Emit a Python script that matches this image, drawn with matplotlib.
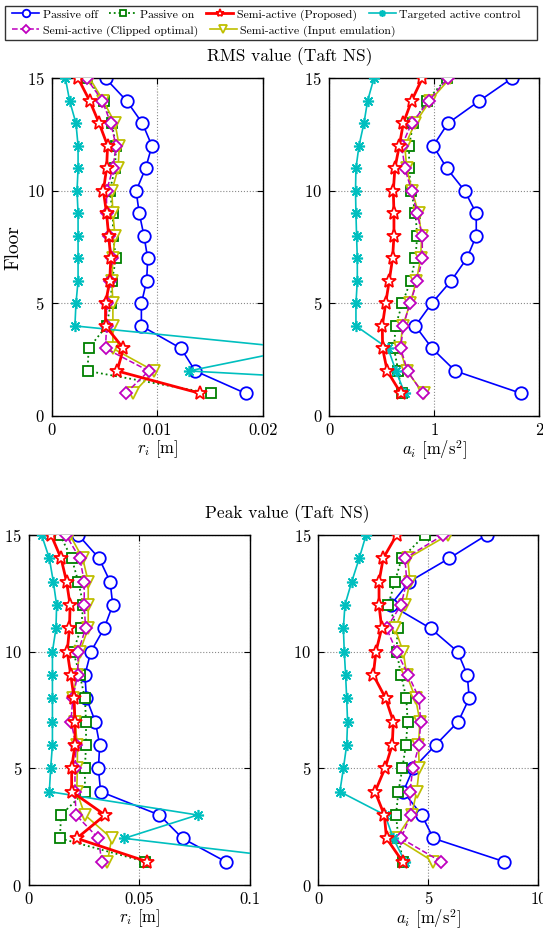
import numpy as np
import matplotlib
matplotlib.use("Agg")
import matplotlib.pyplot as plt
from matplotlib.patches import Rectangle

plt.rcParams['font.family'] = ['cmr10', 'DejaVu Serif']
plt.rcParams['mathtext.fontset'] = 'cm'
plt.rcParams['axes.formatter.use_mathtext'] = True
plt.rcParams['axes.unicode_minus'] = False

floors = np.arange(1, 16)

# RMS inter-storey drift [m], floor 1..15
rms_r_off = [0.0184, 0.0136, 0.01226, 0.0085, 0.0085, 0.0090, 0.0091, 0.00875, 0.0083, 0.0080, 0.0089, 0.0095, 0.0086, 0.0071, 0.0051]
rms_r_on = [0.0151, 0.0034, 0.0035, 0.0052, 0.0056, 0.0057, 0.0061, 0.0058, 0.0058, 0.0055, 0.0060, 0.0061, 0.0057, 0.0050, 0.0033]
rms_r_prop = [0.0141, 0.0062, 0.0068, 0.0051, 0.0051, 0.0055, 0.0056, 0.0054, 0.0052, 0.0049, 0.0052, 0.0053, 0.0045, 0.0036, 0.0025]
rms_r_act = [0.052, 0.0130, 0.0235, 0.0022, 0.0023, 0.0025, 0.0025, 0.0025, 0.0025, 0.0024, 0.0025, 0.0025, 0.0023, 0.0017, 0.0013]
rms_r_clip = [0.0070, 0.0092, 0.0051, 0.0052, 0.0052, 0.0055, 0.0057, 0.0054, 0.0052, 0.0052, 0.0058, 0.0061, 0.0056, 0.0048, 0.0033]
rms_r_emul = [0.0077, 0.0097, 0.0058, 0.0058, 0.0058, 0.0057, 0.0058, 0.0060, 0.0058, 0.0057, 0.0063, 0.0064, 0.0060, 0.0049, 0.0036]

# RMS acceleration [m/s^2]
rms_a_off = [1.83, 1.20, 0.98, 0.82, 0.975, 1.16, 1.31, 1.40, 1.40, 1.29, 1.12, 0.99, 1.13, 1.43, 1.74]
rms_a_on = [0.69, 0.657, 0.616, 0.632, 0.695, 0.775, 0.82, 0.838, 0.82, 0.78, 0.76, 0.76, 0.80, 0.927, 1.12]
rms_a_prop = [0.683, 0.552, 0.508, 0.505, 0.537, 0.571, 0.603, 0.616, 0.616, 0.61, 0.625, 0.667, 0.705, 0.784, 0.886]
rms_a_act = [0.72, 0.635, 0.56, 0.254, 0.254, 0.267, 0.267, 0.26, 0.254, 0.25, 0.254, 0.283, 0.33, 0.365, 0.425]
rms_a_clip = [0.889, 0.746, 0.68, 0.705, 0.768, 0.84, 0.886, 0.886, 0.838, 0.784, 0.72, 0.69, 0.784, 0.95, 1.127]
rms_a_emul = [0.90, 0.737, 0.673, 0.70, 0.77, 0.83, 0.87, 0.88, 0.85, 0.79, 0.737, 0.72, 0.816, 0.96, 1.15]

# Peak inter-storey drift [m]
pk_r_off = [0.089, 0.0695, 0.059, 0.0324, 0.0314, 0.032, 0.030, 0.026, 0.0253, 0.028, 0.034, 0.0379, 0.0367, 0.0317, 0.0223]
pk_r_on = [0.0525, 0.014, 0.0145, 0.0253, 0.0253, 0.0258, 0.0258, 0.0253, 0.023, 0.020, 0.0235, 0.0246, 0.0223, 0.0193, 0.014]
pk_r_prop = [0.0535, 0.0216, 0.0344, 0.0193, 0.0193, 0.0208, 0.0208, 0.0204, 0.0189, 0.0173, 0.0183, 0.0186, 0.017, 0.0145, 0.010]
pk_r_act = [0.132, 0.0431, 0.0763, 0.0092, 0.0098, 0.0106, 0.0106, 0.0106, 0.0106, 0.0106, 0.0122, 0.0125, 0.011, 0.0092, 0.0057]
pk_r_clip = [0.0329, 0.0314, 0.0213, 0.0208, 0.0208, 0.0213, 0.019, 0.0198, 0.022, 0.0223, 0.0256, 0.025, 0.025, 0.023, 0.0167]
pk_r_emul = [0.0355, 0.0374, 0.0253, 0.0216, 0.0219, 0.0219, 0.0208, 0.0198, 0.0216, 0.023, 0.0268, 0.0268, 0.0268, 0.0243, 0.0185]

# Peak acceleration [m/s^2]
pk_a_off = [8.45, 5.23, 4.7, 3.86, 4.32, 5.33, 6.36, 6.86, 6.77, 6.33, 5.1, 3.29, 4.14, 5.95, 7.65]
pk_a_on = [3.86, 3.64, 3.53, 3.64, 3.82, 3.98, 4.06, 4.0, 3.76, 3.56, 3.6, 3.18, 3.48, 3.79, 4.85]
pk_a_prop = [3.83, 3.1, 3.0, 2.58, 3.03, 3.36, 3.41, 3.06, 2.5, 2.62, 2.88, 2.76, 2.76, 2.95, 3.56]
pk_a_act = [3.94, 3.41, 3.03, 0.98, 1.14, 1.29, 1.33, 1.29, 1.24, 1.18, 1.14, 1.21, 1.52, 1.86, 2.17]
pk_a_clip = [5.58, 3.76, 4.2, 4.17, 4.29, 4.58, 4.65, 4.58, 4.09, 3.56, 3.1, 3.76, 4.02, 3.94, 5.68]
pk_a_emul = [5.23, 3.53, 4.24, 4.47, 4.59, 4.55, 4.62, 4.42, 4.02, 3.86, 3.48, 3.94, 4.17, 4.06, 5.9]

labels = ['Passive off', 'Passive on', 'Semi-active (Proposed)', 'Targeted active control',
          'Semi-active (Clipped optimal)', 'Semi-active (Input emulation)']

y_ticks = [0, 5, 10, 15]
xt_rms_r = [0, 0.01, 0.02]
xt_rms_r_lab = ['0', '0.01', '0.02']
xt_rms_a = [0, 1, 2]
xt_rms_a_lab = ['0', '1', '2']
xt_pk_r = [0, 0.05, 0.1]
xt_pk_r_lab = ['0', '0.05', '0.1']
xt_pk_a = [0, 5, 10]
xt_pk_a_lab = ['0', '5', '10']

# styles
st_off = dict(color='#0000FF', ls='-', lw=1.2, marker='o', ms=9, mfc='white', mew=1.3, zorder=2)
st_on = dict(color='#008000', ls=':', lw=1.3, marker='s', ms=7, mfc='white', mew=1.3, zorder=3)
st_emul = dict(color='#BFBF00', ls='-', lw=1.2, marker='v', ms=9, mfc='white', mew=1.3, zorder=4)
st_clip = dict(color='#BF00BF', ls='--', lw=1.1, marker='D', ms=6.5, mfc='white', mew=1.3, zorder=5)
st_act = dict(color='#00BFBF', ls='-', lw=1.2, marker=(8, 2, 0), ms=8, mew=1.2, zorder=6)
st_prop = dict(color='#FF0000', ls='-', lw=2, marker='*', ms=10, mfc='white', mew=1.3, zorder=7)

fig = plt.figure(figsize=(5.43, 9.31), dpi=100)

ax1 = fig.add_axes([0.0952, 0.5532, 0.3886, 0.3627])
ax2 = fig.add_axes([0.6064, 0.5532, 0.3867, 0.3627])
ax3 = fig.add_axes([0.0534, 0.0494, 0.4070, 0.3760])
ax4 = fig.add_axes([0.5862, 0.0494, 0.4052, 0.3760])

panels = [
    (ax1, [rms_r_off, rms_r_on, rms_r_prop, rms_r_act, rms_r_clip, rms_r_emul], 0.02, xt_rms_r, xt_rms_r_lab, r'$r_i$ [m]'),
    (ax2, [rms_a_off, rms_a_on, rms_a_prop, rms_a_act, rms_a_clip, rms_a_emul], 2, xt_rms_a, xt_rms_a_lab, r'$a_i$ [m/s$^2$]'),
    (ax3, [pk_r_off, pk_r_on, pk_r_prop, pk_r_act, pk_r_clip, pk_r_emul], 0.1, xt_pk_r, xt_pk_r_lab, r'$r_i$ [m]'),
    (ax4, [pk_a_off, pk_a_on, pk_a_prop, pk_a_act, pk_a_clip, pk_a_emul], 10, xt_pk_a, xt_pk_a_lab, r'$a_i$ [m/s$^2$]'),
]
styles = [st_off, st_on, st_prop, st_act, st_clip, st_emul]

handles = None
for ax, series, xmax, xt, xtl, xl in panels:
    hs = []
    for s, st, lab in zip(series, styles, labels):
        h, = ax.plot(s, floors, label=lab, **st)
        hs.append(h)
    if handles is None:
        handles = hs
    ax.set_xlim(0, xmax)
    ax.set_ylim(0, 15)
    ax.set_xticks(xt)
    ax.set_xticklabels(xtl)
    ax.set_yticks(y_ticks)
    ax.grid(True, ls=':', color='#8a8a8a', lw=0.8)
    ax.set_axisbelow(True)
    ax.tick_params(direction='in', top=True, right=True, length=4, labelsize=12, pad=5)
    ax.set_xlabel(xl, fontsize=12, labelpad=0)
    for sp in ax.spines.values():
        sp.set_linewidth(1)

# the last tick label "10" sits on the right edge, as in the source figure
ax1.set_ylabel('Floor', fontsize=14, labelpad=3)

fig.text(290 / 543, 1 - 57 / 931, 'RMS value (Taft NS)', ha='center', va='center', fontsize=12.5)
fig.text(287 / 543, 1 - 514 / 931, 'Peak value (Taft NS)', ha='center', va='center', fontsize=12.5)

# legend frame + two rows
fig.patches.append(Rectangle((5 / 543, 1 - 40 / 931), 532 / 543, 34 / 931, transform=fig.transFigure,
                             fill=False, edgecolor='#333333', lw=1))
leg_kw = dict(frameon=False, fontsize=8.5, handlelength=2.3, handletextpad=0.3, columnspacing=1.0,
              borderaxespad=0, borderpad=0, markerscale=0.6)
leg1 = fig.legend(handles[:4], labels[:4], loc='center left', bbox_to_anchor=(12 / 543, 1 - 15 / 931), ncol=4, **leg_kw)
leg2 = fig.legend(handles[4:], labels[4:], loc='center left', bbox_to_anchor=(12 / 543, 1 - 31 / 931), ncol=2, **leg_kw)

fig.savefig('out.png', dpi=100)
